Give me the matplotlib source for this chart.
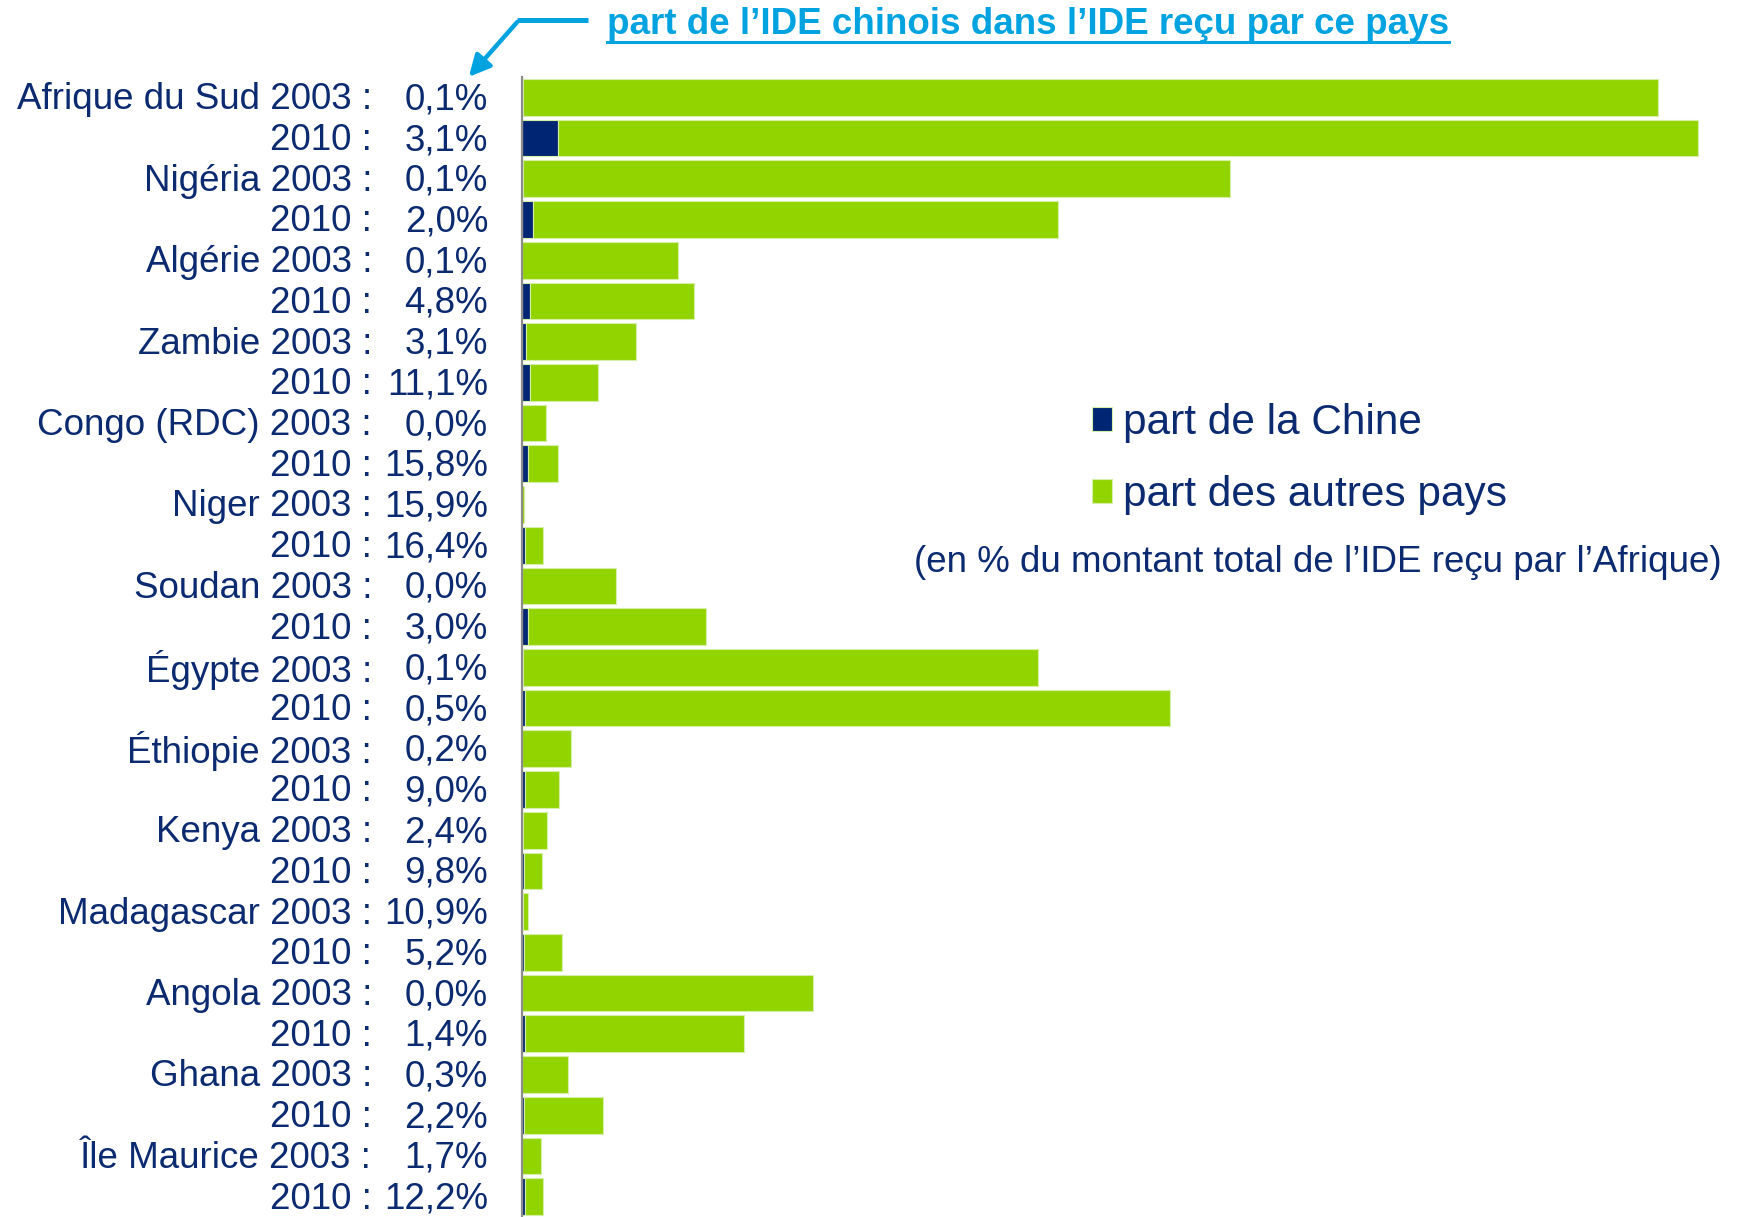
## IDE reçu par les pays africains : part de la Chine ##

import numpy as np
import matplotlib.pyplot as plt
import matplotlib.transforms as mtransforms
from matplotlib.lines import Line2D
from matplotlib.patches import FancyArrowPatch

plt.rcParams['font.family'] = ['Liberation Sans', 'DejaVu Sans']

# data

countries = ["Afrique du Sud", "Nigéria", "Algérie", "Zambie", "Congo (RDC)", "Niger",
             "Soudan", "Égypte", "Éthiopie", "Kenya", "Madagascar", "Angola", "Ghana",
             "Île Maurice"]
years = ["2003", "2010"]

# part de l'IDE chinois dans l'IDE reçu par le pays (%), 2003 puis 2010
china_pct = [0.1, 3.1, 0.1, 2.0, 0.1, 4.8, 3.1, 11.1, 0.0, 15.8, 15.9, 16.4, 0.0, 3.0,
             0.1, 0.5, 0.2, 9.0, 2.4, 9.8, 10.9, 5.2, 0.0, 1.4, 0.3, 2.2, 1.7, 12.2]

africa_share = [28.4, 29.4, 17.7, 13.4, 3.9, 4.3, 2.85, 1.9, 0.6, 0.9, 0.04, 0.52,
                2.34, 4.6, 12.9, 16.2, 1.22, 0.92, 0.63, 0.5, 0.16, 1.0, 7.27, 5.56,
                1.15, 2.03, 0.47, 0.52]

share = np.array(africa_share)
china = share * np.array(china_pct) / 100
others = share - china

# colours
navy = '#002673'
green = '#92d400'
txt = '#0b2a70'
cyan = '#00a3e0'

W, H = 1744, 1217
fig = plt.figure(figsize=(W/100, H/100), dpi=100)
ax = fig.add_axes([522/W, 0, 1 - 522/W, 1 - 77/H])

y = np.arange(len(share))
b1 = ax.barh(y, china, height=0.9, color=navy, edgecolor='#d6efa8', linewidth=0.8,
             label='part de la Chine')
b2 = ax.barh(y, others, left=china, height=0.9, color=green, edgecolor='#d6efa8',
             linewidth=0.8, label='part des autres pays')

ax.set_ylim(len(share) - 0.5, -0.5)
ax.set_xlim(0, (W - 522) / 40)
for s in ['top', 'right', 'bottom']:
    ax.spines[s].set_visible(False)
ax.spines['left'].set_color('#8c8c8c')
ax.spines['left'].set_linewidth(1.6)
ax.set_xticks([])
ax.set_yticks([])

# row labels
trans = mtransforms.blended_transform_factory(fig.transFigure, ax.transData)
for i in range(len(share)):
    c = countries[i // 2]
    yr = years[i % 2]
    lab = (c + " " + yr + " :") if i % 2 == 0 else (yr + " :")
    pct = f"{china_pct[i]:.1f}".replace('.', ',') + "%"
    ax.text(372/W, i + 0.06, lab, transform=trans, ha='right', va='center',
            fontsize=26.5, color=txt)
    ax.text(488/W, i + 0.06, pct, transform=trans, ha='right', va='center',
            fontsize=26.5, color=txt)

# legend
fig.legend(handles=[b1, b2], loc='center left', bbox_to_anchor=(1092/W, 1 - 459/H),
           frameon=False, fontsize=30.5, labelcolor=txt, handlelength=0.48,
           handleheight=0.48, handletextpad=0.25, labelspacing=0.76,
           borderpad=0, borderaxespad=0)

fig.text(1318/W, 1 - 562/H, "(en % du montant total de l\u2019IDE reçu par l\u2019Afrique)",
         ha='center', va='center', fontsize=26.5, color=txt)

# title with underline and arrow
title = fig.text(607/W, 1 - 34/H, "part de l\u2019IDE chinois dans l\u2019IDE reçu par ce pays",
                 ha='left', va='baseline', fontsize=26.5, fontweight='bold', color=cyan)
fig.canvas.draw()
bb = title.get_window_extent()
fig.add_artist(Line2D([bb.x0/W, bb.x1/W], [1 - 42/H, 1 - 42/H],
                      transform=fig.transFigure, color=cyan, lw=2.2))

fig.add_artist(Line2D([588/W, 517/W], [1 - 20/H, 1 - 20/H],
                      transform=fig.transFigure, color=cyan, lw=3.6,
                      solid_capstyle='butt'))
arr = FancyArrowPatch((519/W, 1 - 20/H), (467/W, 1 - 79/H), transform=fig.transFigure,
                      arrowstyle='-|>', mutation_scale=32, color=cyan, lw=3.2)
fig.add_artist(arr)

fig.savefig('out.png', dpi=100)
